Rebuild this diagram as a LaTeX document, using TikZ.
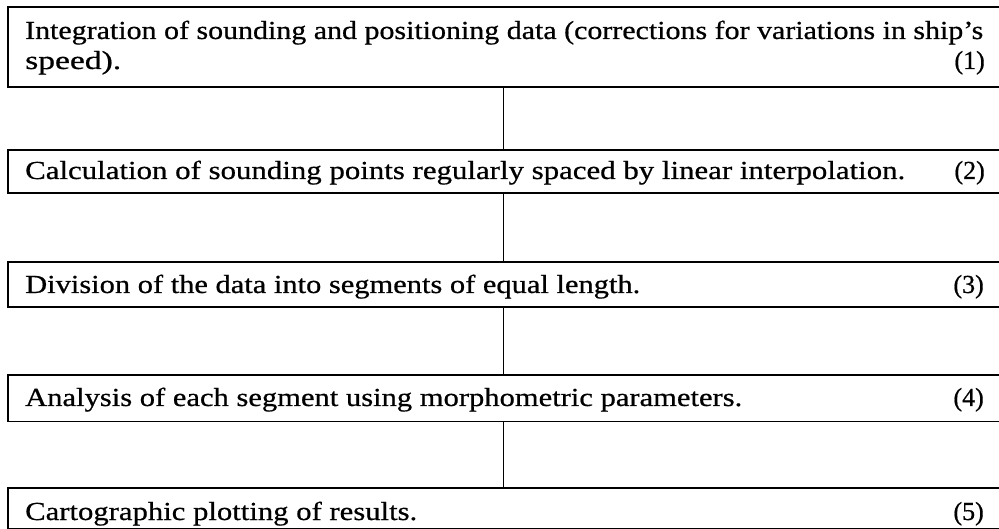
\documentclass[tikz,border=0pt]{standalone}
\usepackage{fontspec}
\setmainfont{Liberation Serif}[FakeBold=0.6]
% set a line of text to a given width, keeping its height
\newsavebox{\linebox}
\newcommand{\fitline}[2]{\sbox{\linebox}{#2}\scalebox{\fpeval{(#1)/(\wd\linebox)}}[1]{\usebox{\linebox}}}
\begin{document}
\begin{tikzpicture}[x=1pt,y=-1pt,
  frame/.style={line width=1.8pt},
  link/.style={line width=1.4pt},
  area/.style={inner sep=0pt, minimum width=991pt, anchor=north west},
  txt/.style={anchor=base west, inner sep=0pt, font=\fontsize{26}{30}\selectfont},
  num/.style={anchor=base east, inner sep=0pt, font=\fontsize{26}{30}\selectfont}]
\useasboundingbox (0,0) rectangle (999,529);

% step boxes (open on the right side)
\node[area, minimum height=80pt] (b1) at (8,7) {};
\node[area, minimum height=43pt] (b2) at (8,150) {};
\node[area, minimum height=45pt] (b3) at (8,262) {};
\node[area, minimum height=46pt] (b4) at (8,375) {};
\node[area, minimum height=40pt] (b5) at (8,488) {};
\foreach \b in {b1,b2,b3,b4,b5}
  \draw[frame] (\b.north east) -- (\b.north west) -- (\b.south west) -- (\b.south east);

% vertical links between steps
\draw[link] (b1.south) -- (b2.north);
\draw[link] (b2.south) -- (b3.north);
\draw[link] (b3.south) -- (b4.north);
\draw[link] (b4.south) -- (b5.north);

% step texts
\node[txt] (t1a) at (25,39) {\fitline{958pt}{Integration of sounding and positioning data (corrections for variations in ship's}};
\node[txt] (t1b) at (25,69) {\fitline{96pt}{speed).}};
\node[num] (n1) at (985,69) {(1)};
\node[txt] (t2) at (25,179) {\fitline{880pt}{Calculation of sounding points regularly spaced by linear interpolation.}};
\node[num] (n2) at (985,179) {(2)};
\node[txt] (t3) at (25,293) {\fitline{615pt}{Division of the data into segments of equal length.}};
\node[num] (n3) at (984,293) {(3)};
\node[txt] (t4) at (25,406) {\fitline{717pt}{Analysis of each segment using morphometric parameters.}};
\node[num] (n4) at (984,406) {(4)};
\node[txt] (t5) at (25,520) {\fitline{392pt}{Cartographic plotting of results.}};
\node[num] (n5) at (984,520) {(5)};
\end{tikzpicture}
\end{document}
